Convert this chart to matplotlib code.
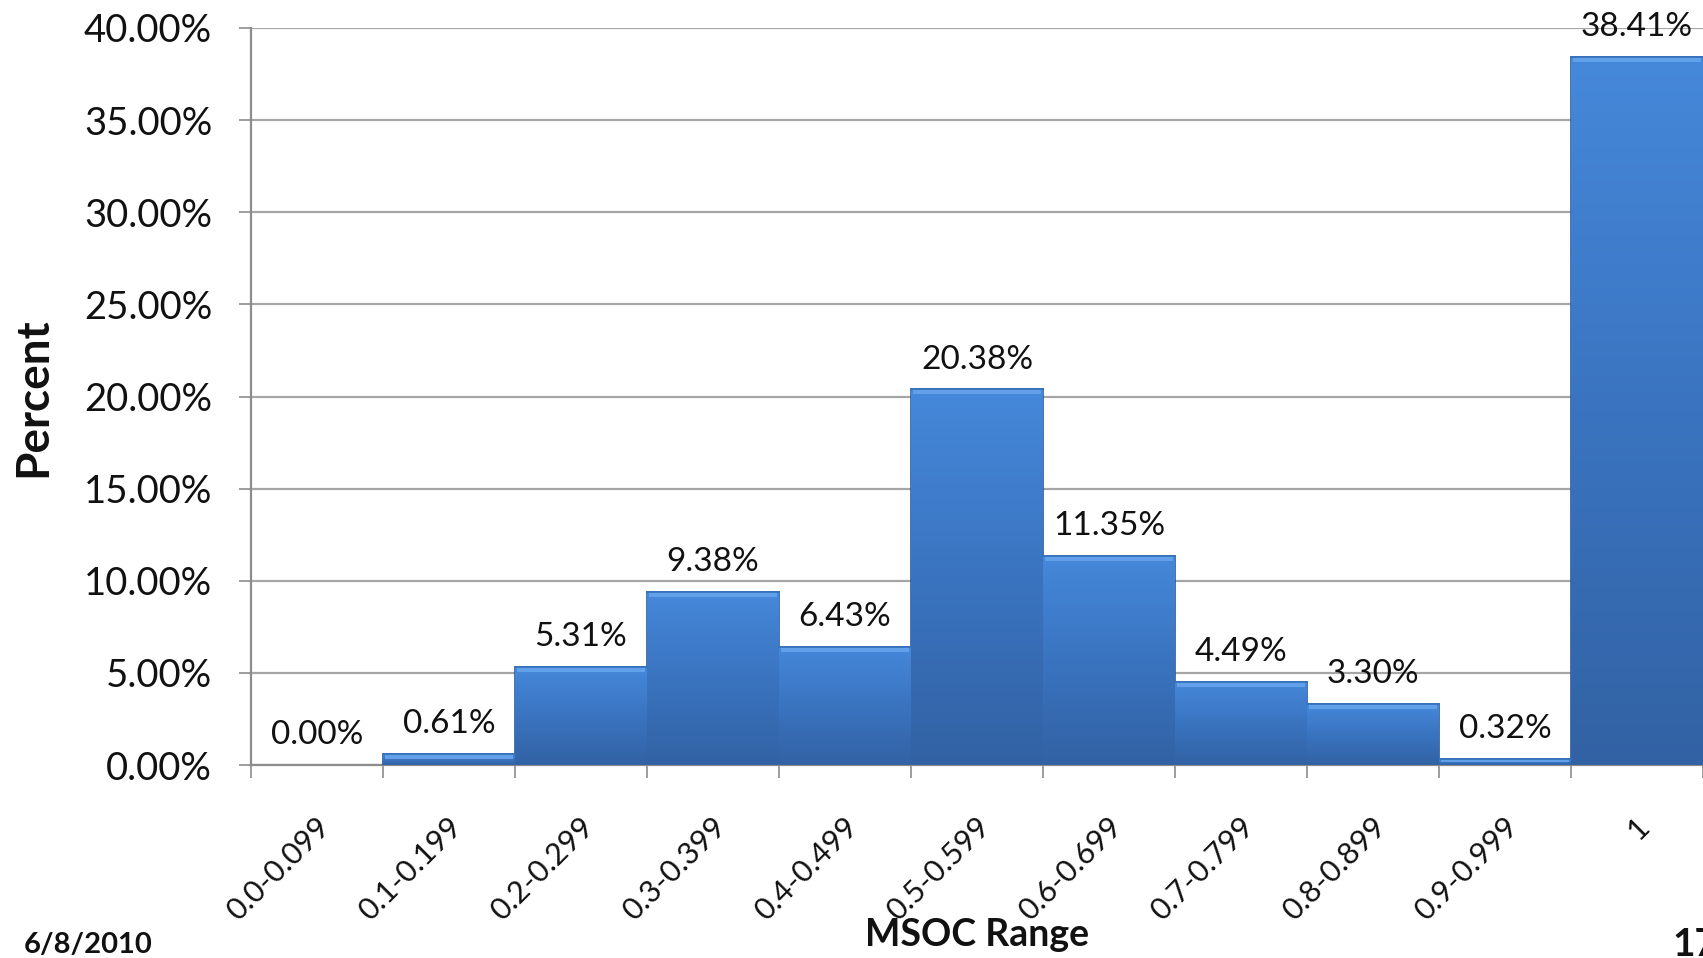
"""
MSOC range distribution chart (percent of samples per MSOC bin).
"""

import numpy as np
import matplotlib
matplotlib.use("Agg")
import matplotlib.pyplot as plt
from matplotlib.colors import LinearSegmentedColormap
from matplotlib.ticker import FuncFormatter, FixedLocator
import matplotlib.transforms as mtransforms

categories = ["0.0-0.099", "0.1-0.199", "0.2-0.299", "0.3-0.399", "0.4-0.499",
              "0.5-0.599", "0.6-0.699", "0.7-0.799", "0.8-0.899", "0.9-0.999", "1"]
percents = [0.00, 0.61, 5.31, 9.38, 6.43, 20.38, 11.35, 4.49, 3.30, 0.32, 38.41]
y_ticks = [0, 5, 10, 15, 20, 25, 30, 35, 40]

plt.rcParams["font.family"] = ["Lato", "DejaVu Sans"]

W, H = 1703, 958
fig = plt.figure(figsize=(W / 100, H / 100), dpi=100)
ax = fig.add_axes([251 / W, (H - 765) / H, 1452 / W, 737 / H])

x = np.arange(len(categories))
bars = ax.bar(x, percents, width=1.0, color="#3d79c8", edgecolor="#2b5a98",
              linewidth=1.2, zorder=3)

# vertical gradient inside each bar, plus a lighter bevel at the top
grad = LinearSegmentedColormap.from_list("bar", ["#3262a4", "#3a74c0", "#4688da"])
gimg = np.linspace(0, 1, 256).reshape(-1, 1)
px_per_unit = 737 / 40.0
for b in bars:
    h = b.get_height()
    if h <= 0:
        b.set_edgecolor("none")
        continue
    x0 = b.get_x()
    w = b.get_width()
    im = ax.imshow(gimg, cmap=grad, origin="lower", aspect="auto",
                   extent=(x0, x0 + w, 0, h), zorder=3.1, interpolation="bicubic")
    im.set_clip_path(b)
    bev = min(5 / px_per_unit, h * 0.5)
    ax.fill_between([x0 + 0.015, x0 + w - 0.015], h - bev, h, color="#62a0ea",
                    zorder=3.2, linewidth=0)
    ax.plot([x0, x0 + w], [h, h], color="#3470bd", lw=1.2, zorder=3.3)

for xi, v in zip(x, percents):
    ax.annotate(f"{v:.2f}%", (xi, v), xytext=(0, 15), textcoords="offset points",
                ha="center", va="baseline", fontsize=24, color="#111111", zorder=5)

ax.set_xlim(-0.5, len(categories) - 0.5)
ax.set_ylim(0, 40)
ax.yaxis.set_major_locator(FixedLocator(y_ticks))
ax.yaxis.set_major_formatter(FuncFormatter(lambda v, p: f"{v:.2f}%"))
ax.tick_params(axis="y", labelsize=27.5, length=9, width=1.2, color="#8c8c8c",
               pad=19, labelcolor="#111111")
ax.grid(axis="y", color="#a6a6a6", linewidth=1.6, zorder=0)
ax.set_axisbelow(True)

ax.set_xticks(x)
ax.set_xticklabels(categories, rotation=45, ha="right", rotation_mode="anchor",
                   fontsize=22, color="#111111")
ax.tick_params(axis="x", which="major", length=0, pad=34)
offset = mtransforms.ScaledTranslation(-2 / 100, 0, fig.dpi_scale_trans)
for lab in ax.get_xticklabels():
    lab.set_transform(lab.get_transform() + offset)
ax.set_xticks(np.arange(-0.5, len(categories)), minor=True)
ax.tick_params(axis="x", which="minor", length=9, width=1.2, color="#8c8c8c")

for s in ("top", "right"):
    ax.spines[s].set_visible(False)
for s in ("left", "bottom"):
    ax.spines[s].set_color("#8c8c8c")
    ax.spines[s].set_linewidth(1.6)

fig.text(33 / W, 1 - 397 / H, "Percent", rotation=90, ha="center", va="center",
         fontsize=33, fontweight="bold", color="#111111")
fig.text(977 / W, 1 - 935 / H, "MSOC Range", ha="center", va="center",
         fontsize=27, fontweight="bold", color="#111111")
fig.text(24 / W, 1 - 945 / H, "6/8/2010", ha="left", va="center",
         fontsize=21, fontweight="bold", color="#111111")
fig.text(1672 / W, 1 - 945 / H, "17", ha="left", va="center",
         fontsize=28, fontweight="bold", color="#111111")

fig.savefig("out.png", dpi=100)
